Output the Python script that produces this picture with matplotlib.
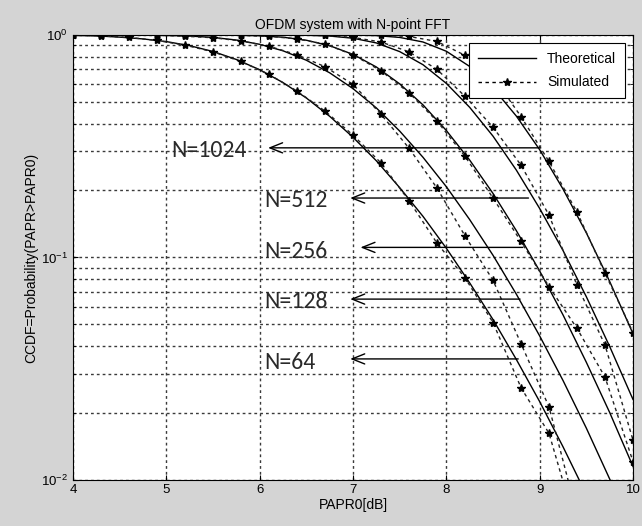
import numpy as np
import matplotlib
matplotlib.use("Agg")
import matplotlib.pyplot as plt
from matplotlib.lines import Line2D

# ---------------- data ----------------
papr_theory = [4.0, 4.25, 4.5, 4.75, 5.0, 5.25, 5.5, 5.75, 6.0, 6.25, 6.5, 6.75,
               7.0, 7.25, 7.5, 7.75, 8.0, 8.25, 8.5, 8.75, 9.0, 9.25, 9.5, 9.75, 10.0]
theory_64 = [0.995, 0.991, 0.978, 0.960, 0.934, 0.895, 0.843, 0.776, 0.698, 0.611,
             0.521, 0.431, 0.347, 0.272, 0.206, 0.153, 0.110, 0.0769, 0.0526, 0.0348,
             0.0225, 0.0141, 0.0086, 0.0052, 0.0030]
theory_128 = [1.0, 1.0, 0.9995, 0.998, 0.9955, 0.989, 0.975, 0.949, 0.908, 0.849,
              0.770, 0.676, 0.574, 0.470, 0.370, 0.282, 0.208, 0.148, 0.1023, 0.0684,
              0.0444, 0.0280, 0.0171, 0.0101, 0.0058]
theory_256 = [1.0, 1.0, 1.0, 1.0, 1.0, 0.9999, 0.9994, 0.9974, 0.9916, 0.977,
              0.947, 0.895, 0.818, 0.718, 0.603, 0.485, 0.372, 0.274, 0.194, 0.132,
              0.0869, 0.0552, 0.0338, 0.0201, 0.0115]
theory_512 = [1.0, 1.0, 1.0, 1.0, 1.0, 1.0, 1.0, 1.0, 0.9999, 0.9995,
              0.9972, 0.989, 0.967, 0.921, 0.842, 0.735, 0.606, 0.473, 0.351, 0.247,
              0.166, 0.1075, 0.0666, 0.0398, 0.0230]
theory_1024 = [1.0, 1.0, 1.0, 1.0, 1.0, 1.0, 1.0, 1.0, 1.0, 1.0,
               1.0, 0.9999, 0.9989, 0.9937, 0.975, 0.930, 0.845, 0.722, 0.578, 0.432,
               0.305, 0.203, 0.129, 0.078, 0.0454]

papr_sim = [4.0, 4.3, 4.6, 4.9, 5.2, 5.5, 5.8, 6.1, 6.4, 6.7, 7.0, 7.3, 7.6, 7.9,
            8.2, 8.5, 8.8, 9.1, 9.4, 9.7, 10.0]
sim_64 = [1.0, 0.99, 0.975, 0.945, 0.90, 0.84, 0.76, 0.665, 0.56, 0.455, 0.355,
          0.266, 0.18, 0.116, 0.081, 0.051, 0.026, 0.0162, 0.006, 0.003, 0.001]
sim_128 = [1.0, 1.0, 1.0, 0.997, 0.987, 0.972, 0.94, 0.89, 0.815, 0.72, 0.60,
           0.44, 0.31, 0.205, 0.125, 0.079, 0.041, 0.0213, 0.007, 0.003, 0.001]
sim_256 = [1.0, 1.0, 1.0, 1.0, 1.0, 0.999, 0.996, 0.987, 0.96, 0.91, 0.815,
           0.69, 0.55, 0.41, 0.285, 0.185, 0.118, 0.074, 0.048, 0.029, 0.0121]
sim_512 = [1.0, 1.0, 1.0, 1.0, 1.0, 1.0, 1.0, 1.0, 0.999, 0.995, 0.975,
           0.93, 0.84, 0.70, 0.53, 0.385, 0.26, 0.155, 0.075, 0.0404, 0.0151]
sim_1024 = [1.0, 1.0, 1.0, 1.0, 1.0, 1.0, 1.0, 1.0, 1.0, 1.0, 1.0,
            0.998, 0.985, 0.935, 0.81, 0.65, 0.43, 0.27, 0.16, 0.085, 0.046]

theory_series = [theory_64, theory_128, theory_256, theory_512, theory_1024]
sim_series = [sim_64, sim_128, sim_256, sim_512, sim_1024]

labels = ["N=1024", "N=512", "N=256", "N=128", "N=64"]
label_xy = [(5.05, 0.304), (6.05, 0.181), (6.05, 0.106), (6.05, 0.0631), (6.05, 0.0339)]
arrow_head = [(6.09, 0.311), (6.97, 0.185), (7.08, 0.111), (6.97, 0.065), (6.97, 0.035)]
arrow_tail = [(9.00, 0.311), (8.88, 0.185), (8.82, 0.111), (8.79, 0.065), (8.77, 0.035)]

# ---------------- figure ----------------
plt.rcParams['font.family'] = ['Liberation Sans', 'DejaVu Sans']
fig = plt.figure(figsize=(6.42, 5.26), dpi=100, facecolor='#d4d4d4')
ax = fig.add_axes([0.1137, 0.0875, 0.8723, 0.846])
ax.set_facecolor('white')

dash = (0, (2.5, 2.5))
for th in theory_series:
    ax.plot(papr_theory, th, '-', color='black', lw=1.0)
for sm in sim_series:
    ax.plot(papr_sim, sm, linestyle=dash, color='#222222', lw=1.0,
            marker='*', markersize=6, markerfacecolor='black', markeredgecolor='black')

ax.set_yscale('log')
ax.set_xlim(4, 10)
ax.set_ylim(1e-2, 1)
ax.set_xticks([4, 5, 6, 7, 8, 9, 10])
gstyle = dict(linestyle=(0, (2, 2.2)), color='#3a3a3a', lw=1.0)
ax.grid(True, which='major', **gstyle)
ax.grid(True, which='minor', axis='y', **gstyle)
ax.tick_params(which='both', direction='in', top=True, right=True, labelsize=9.5)
ax.tick_params(axis='x', pad=3)

ax.set_title("OFDM system with N-point FFT", fontsize=10, pad=4)
ax.set_xlabel("PAPR0[dB]", fontsize=10, labelpad=1)
ax.set_ylabel("CCDF=Probability(PAPR>PAPR0)", fontsize=10, labelpad=2)

for lab, lxy, hd, tl in zip(labels, label_xy, arrow_head, arrow_tail):
    ax.text(lxy[0], lxy[1], lab, fontsize=17, family=['Carlito', 'Liberation Sans', 'DejaVu Sans'],
            va='center', ha='left', color='#2a2a2a')
    ax.annotate("", xy=hd, xytext=tl,
                arrowprops=dict(arrowstyle='->, head_length=0.7, head_width=0.28',
                                color='black', lw=1.0,
                                mutation_scale=13, shrinkA=0, shrinkB=0))

h1 = Line2D([], [], color='black', lw=1.0)
h2 = Line2D([], [], color='black', lw=1.0, linestyle=dash, marker='*', markersize=6)
leg = ax.legend([h1, h2], ["Theoretical", "Simulated"], loc='upper right', fontsize=10,
                frameon=True, fancybox=False, edgecolor='black', framealpha=1,
                borderaxespad=0.6, handlelength=4.2, labelspacing=0.7, borderpad=0.6)
leg.get_frame().set_linewidth(0.8)

fig.savefig("out.png", dpi=100, facecolor=fig.get_facecolor())
